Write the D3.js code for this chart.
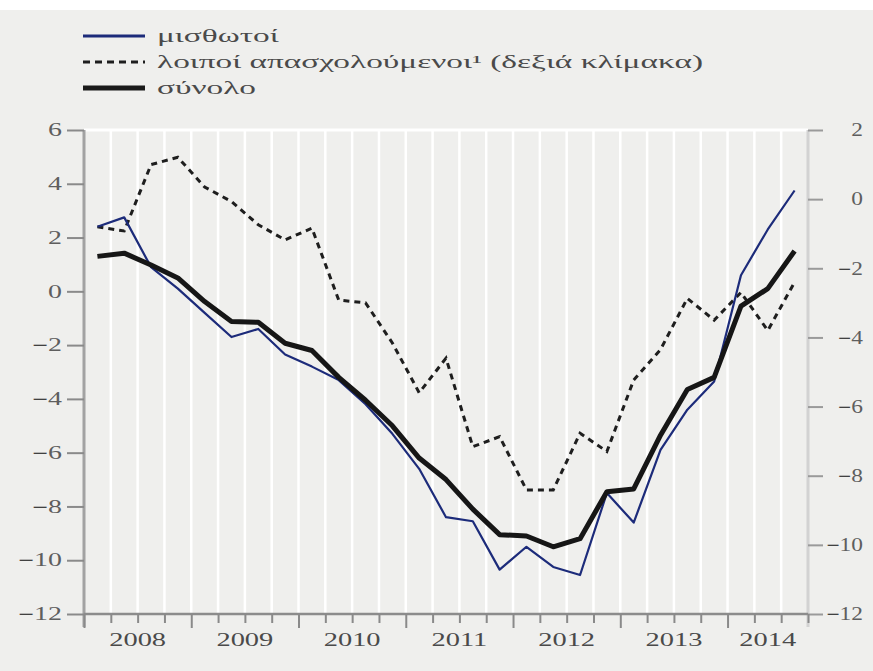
<!DOCTYPE html>
<html>
<head>
<meta charset="utf-8">
<script src="https://cdnjs.cloudflare.com/ajax/libs/d3/7.8.5/d3.min.js"></script>
<style>
  body { margin: 0; background: #efefed; }
  svg { display: block; }
</style>
</head>
<body>
<svg id="graphe" width="873" height="671"></svg>
<script>

// Données (trimestres 2008T1 - 2014T3)
const annees = ["2008", "2009", "2010", "2011", "2012", "2013", "2014"];
const trimestres = annees.flatMap(a => ["Q1", "Q2", "Q3", "Q4"].map(q => a + q)).slice(0, 27);

// μισθωτοί (échelle gauche)
const misthotoi = [2.4, 2.75, 0.9, 0.1, -0.8, -1.7, -1.4, -2.35, -2.8, -3.3, -4.2, -5.3, -6.6, -8.4,
  -8.55, -10.35, -9.5, -10.25, -10.55, -7.5, -8.6, -5.9, -4.4, -3.35, 0.6, 2.3, 3.75];

// λοιποί απασχολούμενοι (échelle droite)
const loipoi = [-0.8, -0.92, 1.0, 1.21, 0.35, -0.07, -0.74, -1.18, -0.84, -2.92, -3.0, -4.16, -5.6, -4.6,
  -7.16, -6.87, -8.41, -8.41, -6.77, -7.3, -5.23, -4.35, -2.87, -3.5, -2.7, -3.8, -2.4];

// σύνολο (échelle gauche)
const synolo = [1.3, 1.42, 0.98, 0.5, -0.38, -1.12, -1.15, -1.93, -2.2, -3.2, -4.05, -5.0, -6.2, -7.0,
  -8.1, -9.05, -9.1, -9.5, -9.2, -7.45, -7.35, -5.35, -3.65, -3.2, -0.55, 0.1, 1.5];

const ticksGauche = [6, 4, 2, 0, -2, -4, -6, -8, -10, -12];
const ticksDroite = [2, 0, -2, -4, -6, -8, -10, -12];
const legende = ["μισθωτοί", "λοιποί απασχολούμενοι¹ (δεξιά κλίμακα)", "σύνολο"];

const police = "'Liberation Serif', 'Times New Roman', serif";
const bleu = "#1c2b7a";

let svg = d3.select("#graphe");

// bande blanche en haut
svg.append("rect").attr("x", 0).attr("y", 0).attr("width", 873).attr("height", 10).attr("fill", "#ffffff");

//Echelles
let x = d3.scaleLinear().domain([0, trimestres.length]).range([84, 808]);
let yG = d3.scaleLinear().domain([-12, 6]).range([614, 130]);
let yD = d3.scaleLinear().domain([-12, 2]).range([614, 130]);

//Etirement horizontal des textes (le graphique d'origine est élargi)
let etirer = (sel, k) => {
  sel.each(function(){
    let n = this.getComputedTextLength();
    this.setAttribute("textLength", n * k);
    this.setAttribute("lengthAdjust", "spacingAndGlyphs");
  });
};

//Grille verticale blanche
svg.append("g")
  .selectAll("line")
  .data(d3.range(1, trimestres.length))
  .enter()
  .append("line")
  .attr("x1", d => x(d)).attr("x2", d => x(d))
  .attr("y1", yG(6)).attr("y2", yG(-12))
  .style("stroke", "#ffffff")
  .style("stroke-width", 2.5);

svg.append("line")
  .attr("x1", x(0)).attr("x2", x(trimestres.length))
  .attr("y1", yG(6)).attr("y2", yG(6))
  .style("stroke", "#ffffff")
  .style("stroke-width", 3);

//Axe gauche
let axeG = svg.append("g")
  .attr("transform", `translate(${x(0)},0)`)
  .call(d3.axisLeft(yG).tickValues(ticksGauche).tickSize(17).tickPadding(5)
    .tickFormat(d => d));

//Axe droit
let axeD = svg.append("g")
  .attr("transform", `translate(${x(trimestres.length)},0)`)
  .call(d3.axisRight(yD).tickValues(ticksDroite).tickSize(15).tickPadding(5)
    .tickFormat(d => d));

//Axe bas
let axeB = svg.append("g")
  .attr("transform", `translate(0,${yG(-12)})`)
  .call(d3.axisBottom(x).tickValues(d3.range(0, trimestres.length + 1)).tickSize(9).tickFormat(""));

axeG.select(".domain").style("stroke", "#a2a2a2").style("stroke-width", 3)
  .attr("d", `M0,${yG(6)}V${yG(-12) + 13}`);
axeD.select(".domain").style("stroke", "#d2d2d2").style("stroke-width", 3)
  .attr("d", `M0,${yD(2)}V${yD(-12) + 13}`);
axeB.select(".domain").style("stroke", "#8c8c8c").style("stroke-width", 2.5)
  .attr("d", `M${x(0)},0H${x(trimestres.length)}`);

axeG.selectAll(".tick line").style("stroke", "#8a8a8a").style("stroke-width", 2);
axeD.selectAll(".tick line").style("stroke", "#9a9a9a").style("stroke-width", 2);
axeB.selectAll(".tick line")
  .style("stroke", "#8a8a8a")
  .style("stroke-width", 2)
  .attr("y2", d => d % 4 === 0 ? 14 : 9);

//Libellés des axes : signe moins noir, chiffres gris
let libelle = function(d){
  let t = d3.select(this);
  t.text("");
  if (d < 0) t.append("tspan").style("fill", "#111").text("\u2212");
  t.append("tspan").text(Math.abs(d));
};

axeG.selectAll(".tick text")
  .style("font-family", police)
  .style("font-size", "18px")
  .style("fill", "#5e5e5e")
  .each(libelle)
  .call(etirer, 1.55);

axeD.selectAll(".tick text")
  .attr("x", 55)
  .attr("text-anchor", "end")
  .style("font-family", police)
  .style("font-size", "18px")
  .style("fill", "#5e5e5e")
  .each(libelle)
  .call(etirer, 1.3);

//Années
svg.append("g")
  .selectAll("text")
  .data(annees)
  .enter()
  .append("text")
  .attr("x", (d, i) => x((i * 4 + Math.min(i * 4 + 4, trimestres.length)) / 2))
  .attr("y", 646)
  .attr("text-anchor", "middle")
  .style("font-family", police)
  .style("font-size", "18px")
  .style("fill", "#4a4a4a")
  .text(d => d)
  .call(etirer, 1.58);

//Courbes
let ligneG = d3.line().x((d, i) => x(i + 0.5)).y(d => yG(d));
let ligneD = d3.line().x((d, i) => x(i + 0.5)).y(d => yD(d));

svg.append("path")
  .datum(loipoi)
  .attr("d", ligneD)
  .style("fill", "none")
  .style("stroke", "#1e1e1e")
  .style("stroke-width", 3)
  .style("stroke-dasharray", "6,5");

svg.append("path")
  .datum(misthotoi)
  .attr("d", ligneG)
  .style("fill", "none")
  .style("stroke", bleu)
  .style("stroke-width", 2.2)
  .style("stroke-linejoin", "round");

svg.append("path")
  .datum(synolo)
  .attr("d", ligneG)
  .style("fill", "none")
  .style("stroke", "#161616")
  .style("stroke-width", 5)
  .style("stroke-linejoin", "round");

//Légende
let styles = [
  {couleur: bleu, epaisseur: 3, tirets: null},
  {couleur: "#1e1e1e", epaisseur: 3, tirets: "7,5"},
  {couleur: "#1a1a1a", epaisseur: 5, tirets: null}
];

let legend = svg.selectAll("g.legend_entree")
  .data(legende)
  .enter()
  .append("g")
  .attr("class", "legend_entree")
  .attr("transform", (d, i) => `translate(0,${36 + i * 26})`);

legend.append("line")
  .attr("x1", 83).attr("x2", 145)
  .attr("y1", 0).attr("y2", 0)
  .style("stroke", (d, i) => styles[i].couleur)
  .style("stroke-width", (d, i) => styles[i].epaisseur)
  .style("stroke-dasharray", (d, i) => styles[i].tirets);

legend.append("text")
  .attr("x", 157)
  .attr("y", 0)
  .attr("dy", "0.32em")
  .style("font-family", police)
  .style("font-size", "18px")
  .style("fill", "#4a4a4a")
  .text(d => d);

let kLegende = 546 / legend.filter((d, i) => i === 1).select("text").node().getComputedTextLength();
legend.selectAll("text").call(etirer, kLegende);

</script>
</body>
</html>
